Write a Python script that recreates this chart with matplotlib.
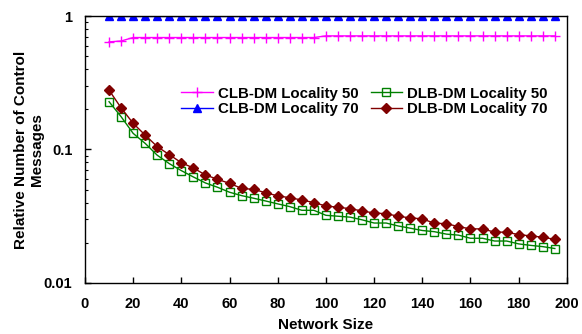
import numpy as np
import matplotlib
matplotlib.use("Agg")
import matplotlib.pyplot as plt
from matplotlib.ticker import FixedLocator, FixedFormatter, LogLocator, NullFormatter

matplotlib.rcParams['font.family'] = ['Liberation Sans', 'DejaVu Sans']
matplotlib.rcParams['font.weight'] = 'bold'

# network sizes 10..195
network_size = list(range(10, 200, 5))

clb_dm_50 = [0.64, 0.65] + [0.69] * 16 + [0.71] * 20
clb_dm_70 = [1.0] * 38
dlb_dm_50 = [0.228, 0.176, 0.132, 0.111, 0.0905, 0.0783, 0.0694, 0.0622, 0.0561, 0.0521,
             0.0478, 0.0451, 0.0431, 0.0411, 0.0391, 0.0373, 0.0350, 0.0350, 0.0321, 0.0316,
             0.0311, 0.0297, 0.0281, 0.0281, 0.0267, 0.0257, 0.0247, 0.0242, 0.0232, 0.0228,
             0.0216, 0.0216, 0.0206, 0.0206, 0.0196, 0.0191, 0.0187, 0.0181]
dlb_dm_70 = [0.278, 0.205, 0.157, 0.128, 0.105, 0.0914, 0.0796, 0.0726, 0.0644, 0.0598,
             0.0557, 0.0511, 0.0502, 0.0474, 0.0449, 0.0435, 0.0418, 0.0400, 0.0377, 0.0369,
             0.0360, 0.0346, 0.0334, 0.0330, 0.0316, 0.0307, 0.0302, 0.0280, 0.0278, 0.0264,
             0.0254, 0.0254, 0.0240, 0.0240, 0.0230, 0.0225, 0.0220, 0.0212]

fig = plt.figure(figsize=(5.82, 3.34), dpi=100)
ax = fig.add_axes([0.146, 0.153, 0.828, 0.799])

ax.plot(network_size, clb_dm_50, color='#FF00FF', lw=1, marker='+', ms=7, mew=1,
        label='CLB-DM Locality 50')
ax.plot(network_size, clb_dm_70, color='#0000FF', lw=1, marker='^', ms=6,
        label='CLB-DM Locality 70')
ax.plot(network_size, dlb_dm_50, color='#008000', lw=1, marker='s', ms=5.5, mfc='none',
        mew=1, label='DLB-DM Locality 50')
ax.plot(network_size, dlb_dm_70, color='#800000', lw=1, marker='D', ms=5,
        label='DLB-DM Locality 70')

ax.set_yscale('log')
ax.set_ylim(0.01, 1)
ax.set_xlim(0, 200)
ax.set_xticks(np.arange(0, 201, 20))
ax.yaxis.set_major_locator(FixedLocator([0.01, 0.1, 1]))
ax.yaxis.set_major_formatter(FixedFormatter(['0.01', '0.1', '1']))
ax.yaxis.set_minor_locator(LogLocator(base=10, subs=np.arange(2, 10)))
ax.yaxis.set_minor_formatter(NullFormatter())

ax.tick_params(which='both', direction='in', labelsize=10.5)
ax.tick_params(axis='y', pad=9)
ax.tick_params(axis='x', pad=10)
ax.tick_params(which='major', length=4, width=1)
ax.tick_params(which='minor', length=2.5, width=0.8)
ax.tick_params(axis='x', top=False)
ax.tick_params(axis='y', right=False)
for s in ax.spines.values():
    s.set_linewidth(1)

ax.set_xlabel('Network Size', fontsize=11, fontweight='bold', labelpad=5)
ax.set_ylabel('Relative Number of Control\nMessages', fontsize=11, fontweight='bold',
              labelpad=0)

ax.legend(ncol=2, frameon=False, loc='center', bbox_to_anchor=(0.58, 0.68),
          fontsize=10.8, handlelength=2.1, columnspacing=0.8, labelspacing=0.1,
          handletextpad=0.35)

fig.savefig('out.png', dpi=100)
